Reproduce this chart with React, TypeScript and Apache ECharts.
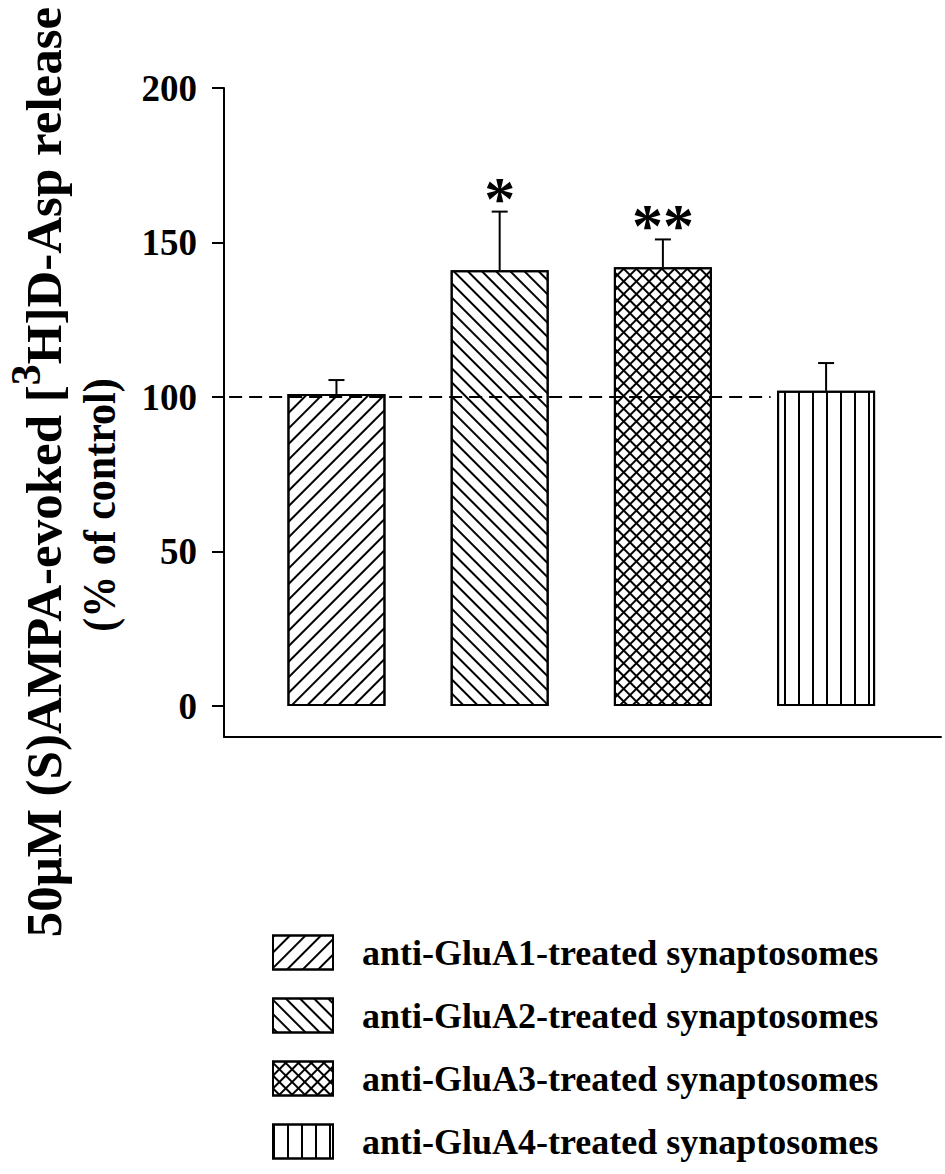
import React, { useEffect, useRef } from "react";
import * as echarts from "echarts";

const categories = [
  "anti-GluA1-treated synaptosomes",
  "anti-GluA2-treated synaptosomes",
  "anti-GluA3-treated synaptosomes",
  "anti-GluA4-treated synaptosomes",
];
const xPositions = [1, 2, 3, 4];
const values = [101, 141, 142, 102];
const errors = [4.5, 19, 9, 9];
const significance = ["", "*", "**", ""];
const yTicks = [0, 50, 100, 150, 200];
const controlLevel = 100;
const controlLineX = [0.22, 3.66];

const FONT = '"Liberation Serif", "Times New Roman", serif';

const decals: any[] = [
  { symbol: "rect", symbolSize: 1, color: "#000", dashArrayX: [1, 0], dashArrayY: [2, 9], rotation: -Math.PI / 4 },
  { symbol: "rect", symbolSize: 1, color: "#000", dashArrayX: [1, 0], dashArrayY: [2, 8], rotation: Math.PI / 4 },
  { symbol: "rect", symbolSize: 1, color: "#000", dashArrayX: [[9, 0], [2, 7]], dashArrayY: [2, 0, 7, 0], rotation: Math.PI / 4 },
  { symbol: "rect", symbolSize: 1, color: "#000", dashArrayX: [2, 12], dashArrayY: [10, 0], rotation: 0 },
];

export default function App() {
  const ref = useRef<HTMLDivElement>(null);
  useEffect(() => {
    if (!ref.current) return;
    const chart = echarts.init(ref.current, undefined, { renderer: "svg" });
    const barSeries = categories.map((name, i) => ({
      type: "bar",
      name,
      barWidth: 98,
      barGap: "-100%",
      data: [[xPositions[i], values[i]]],
      itemStyle: { color: "#fff", borderColor: "#000", borderWidth: 2, decal: decals[i] },
      emphasis: { disabled: true },
      silent: true,
      z: 2,
    }));
    const option: any = {
      animation: false,
      backgroundColor: "#fff",
      grid: { left: 224, top: 88, width: 717, height: 649, containLabel: false },
      xAxis: {
        type: "value",
        min: 0.311,
        max: 4.704,
        axisLine: { show: true, onZero: false, lineStyle: { color: "#000", width: 2 } },
        axisTick: { show: false },
        axisLabel: { show: false },
        splitLine: { show: false },
      },
      yAxis: {
        type: "value",
        min: -10,
        max: 200,
        axisLine: { show: true, onZero: false, lineStyle: { color: "#000", width: 2 } },
        axisTick: { show: true, inside: false, length: 12, customValues: yTicks, lineStyle: { color: "#000", width: 2 } },
        axisLabel: {
          show: true,
          customValues: yTicks,
          margin: 27,
          color: "#000",
          fontFamily: FONT,
          fontWeight: "bold",
          fontSize: 37,
        },
        splitLine: { show: false },
      },
      legend: {
        data: categories,
        orient: "vertical",
        left: 272,
        top: 934,
        padding: 0,
        itemWidth: 60,
        itemHeight: 34,
        itemGap: 26,
        icon: "rect",
        selectedMode: false,
        textStyle: {
          fontFamily: FONT,
          fontWeight: "bold",
          fontSize: 36,
          lineHeight: 37,
          color: "#000",
          padding: [0, 0, 0, 24],
        },
      },
      graphic: [
        {
          type: "text",
          x: 37,
          y: 472,
          rotation: Math.PI / 2,
          style: {
            text: "{a|50μM (S)AMPA-evoked [}{s|3}{a|H]D-Asp release}",
            textAlign: "center",
            textVerticalAlign: "middle",
            rich: {
              a: { fontFamily: FONT, fontWeight: "bold", fontSize: 51, fill: "#000", verticalAlign: "bottom" },
              s: { fontFamily: FONT, fontWeight: "bold", fontSize: 42, fill: "#000", verticalAlign: "bottom", padding: [0, 0, 22, 0] },
            },
          },
        },
        {
          type: "text",
          x: 99,
          y: 505,
          rotation: Math.PI / 2,
          scaleY: 1.12,
          style: {
            text: "(% of control)",
            font: `bold 42px ${FONT}`,
            fill: "#000",
            textAlign: "center",
            textVerticalAlign: "middle",
          },
        },
      ],
      series: [
        ...barSeries,
        {
          type: "custom",
          name: "error",
          silent: true,
          z: 3,
          data: values.map((v, i) => [xPositions[i], v, v + errors[i], i]),
          renderItem: (params: any, api: any) => {
            const x = api.value(0);
            const v = api.value(1);
            const top = api.value(2);
            const idx = api.value(3);
            const p0 = api.coord([x, v]);
            const p1 = api.coord([x, top]);
            const children: any[] = [
              { type: "line", shape: { x1: p0[0], y1: p0[1], x2: p1[0], y2: p1[1] }, style: { stroke: "#000", lineWidth: 2 } },
              { type: "line", shape: { x1: p1[0] - 8, y1: p1[1], x2: p1[0] + 8, y2: p1[1] }, style: { stroke: "#000", lineWidth: 2 } },
            ];
            if (significance[idx]) {
              children.push({
                type: "text",
                x: p1[0],
                y: p1[1] - 14,
                style: {
                  text: significance[idx],
                  font: `bold 62px ${FONT}`,
                  fill: "#000",
                  textAlign: "center",
                  textVerticalAlign: "middle",
                },
              });
            }
            return { type: "group", children };
          },
        },
        {
          type: "line",
          name: "control",
          silent: true,
          clip: false,
          z: 4,
          symbol: "none",
          data: controlLineX.map((x) => [x, controlLevel]),
          lineStyle: { color: "#000", width: 2, type: [13, 7] },
        },
      ],
    };
    chart.setOption(option);
    return () => chart.dispose();
  }, []);
  return (
    <div
      ref={ref}
      style={{ position: "absolute", left: 0, top: 0, width: 945, height: 1174, background: "#fff" }}
    />
  );
}
